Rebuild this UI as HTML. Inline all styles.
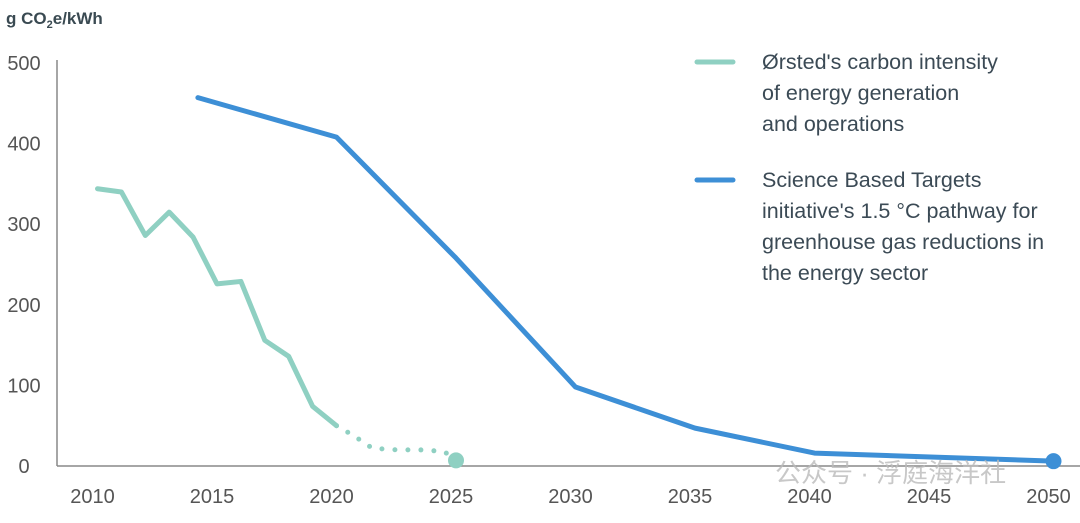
<!DOCTYPE html>
<html><head><meta charset="utf-8"><style>
body{margin:0;background:#fff;font-family:"Liberation Sans","Noto Sans CJK SC",sans-serif}
svg text{font-family:"Liberation Sans","Noto Sans CJK SC",sans-serif}
</style></head><body>
<svg id="c" width="1080" height="518">
<text x="6" y="24" font-size="17" font-weight="bold" fill="#3a4a52">g CO<tspan font-size="11" dy="4">2</tspan><tspan dy="-4">e/kWh</tspan></text>
<g id="ax"></g><g id="marks"></g>
<g font-size="21.5" fill="#3b4a55">
<line x1="697" y1="62" x2="733" y2="62" stroke="#8fd0c2" stroke-width="5" stroke-linecap="round"/>
<text x="762" y="69"><tspan x="762">Ørsted's carbon intensity</tspan><tspan x="762" dy="31">of energy generation</tspan><tspan x="762" dy="31">and operations</tspan></text>
<line x1="697" y1="180" x2="733" y2="180" stroke="#3d8fd6" stroke-width="5" stroke-linecap="round"/>
<text x="762" y="187"><tspan x="762">Science Based Targets</tspan><tspan x="762" dy="31">initiative's 1.5 °C pathway for</tspan><tspan x="762" dy="31">greenhouse gas reductions in</tspan><tspan x="762" dy="31">the energy sector</tspan></text>
</g>
<text x="775" y="482" font-size="26" fill="#bbb" opacity="0.8">公众号 · 浮庭海洋社</text>
</svg>
<script>
const xTicks=[2010,2015,2020,2025,2030,2035,2040,2045,2050];
const yTicks=[0,100,200,300,400,500];
const orstedYears=[2010,2011,2012,2013,2014,2015,2016,2017,2018,2019,2020];
const orstedVals=[344,340,286,315,284,226,229,156,136,74,50];
const targetYears=[2020,2020.7,2021.5,2022.5,2023.5,2024.5,2025];
const targetVals=[50,38,22,20,20,18,7];
const sbtiYears=[2014.2,2020,2025,2030,2035,2040,2050];
const sbtiVals=[457,408,258,98,47,16,6];
const NS="http://www.w3.org/2000/svg";
const X=y=>217+(y-2015)*23.9;
const Y=v=>466-v*0.806;
const ax=document.getElementById('ax'),mk=document.getElementById('marks');
function el(t,a,p){const e=document.createElementNS(NS,t);for(const k in a)e.setAttribute(k,a[k]);p.appendChild(e);return e;}
let l=el('line',{x1:57,y1:60,x2:57,y2:466,stroke:'#888','stroke-width':1.5},ax);


l=el('line',{x1:57,y1:466,x2:1080,y2:466,stroke:'#888','stroke-width':1.5},ax);


yTicks.forEach(v=>{const t=el('text',{x:24,y:Y(v)+7,'font-size':20,fill:'#555','text-anchor':'middle'},ax);t.textContent=v;

});
xTicks.forEach(v=>{const t=el('text',{x:X(v)-5,y:503,'font-size':20,fill:'#555','text-anchor':'middle'},ax);t.textContent=v;

});
const pts=(xs,vs)=>xs.map((x,i)=>X(x)+','+Y(vs[i])).join(' ');
let p=el('polyline',{points:pts(sbtiYears,sbtiVals),fill:'none',stroke:'#3d8fd6','stroke-width':5,'stroke-linejoin':'round','stroke-linecap':'round'},mk);


p=el('polyline',{points:pts(orstedYears,orstedVals),fill:'none',stroke:'#8fd0c2','stroke-width':5,'stroke-linejoin':'round','stroke-linecap':'round'},mk);


p=el('polyline',{points:pts(targetYears,targetVals),fill:'none',stroke:'#8fd0c2','stroke-width':5,'stroke-dasharray':'0 13','stroke-linecap':'round'},mk);


let c=el('circle',{cx:X(2025),cy:Y(targetVals[targetVals.length-1]),r:8,fill:'#8fd0c2'},mk);


c=el('circle',{cx:X(2050),cy:Y(sbtiVals[sbtiVals.length-1]),r:8,fill:'#3d8fd6'},mk);


</script>
</body></html>
